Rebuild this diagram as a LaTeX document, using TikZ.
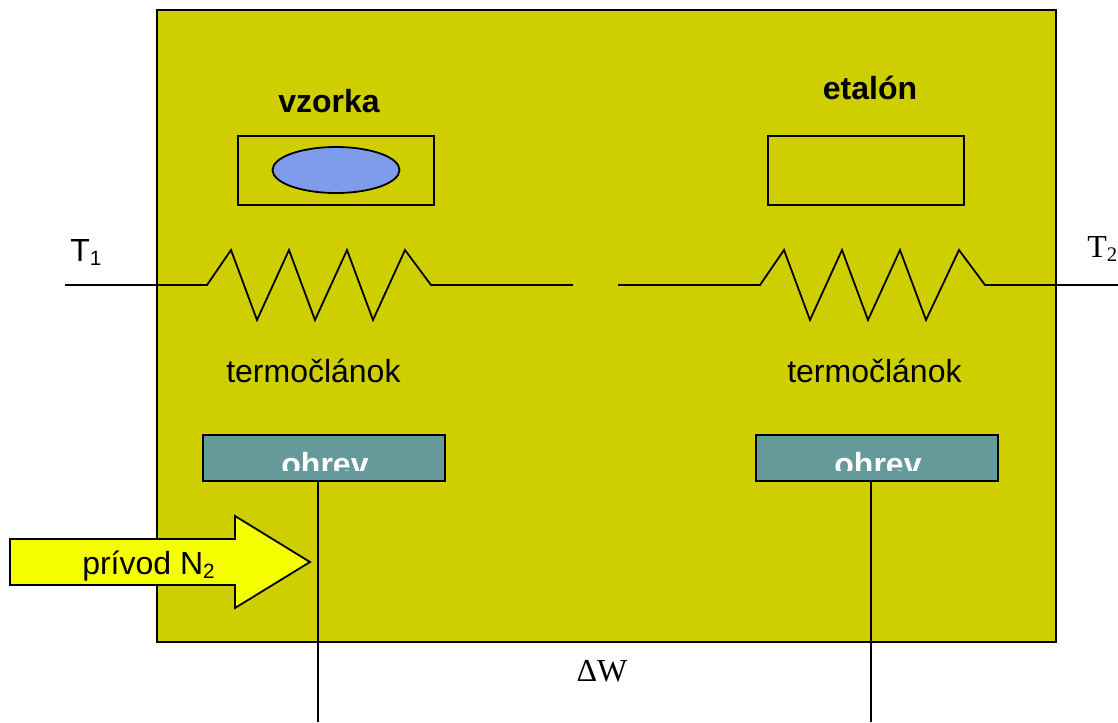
\documentclass[tikz,border=0pt]{standalone}
\usepackage{fontspec}
\setmainfont{Liberation Sans}
\newfontfamily\serifx{Liberation Serif}
\definecolor{olivebg}{RGB}{206,206,0}
\definecolor{tealbox}{RGB}{102,153,153}
\definecolor{bluefill}{RGB}{127,156,235}
\definecolor{yellowarrow}{RGB}{245,255,0}
\newcommand{\lbl}{\fontsize{24pt}{28pt}\selectfont}
\newcommand{\subx}[1]{\raisebox{-3pt}{\fontsize{15.5pt}{18pt}\selectfont #1}}
\begin{document}
\begin{tikzpicture}[x=0.75pt,y=-0.75pt,
  line/.style={draw=black,line width=1.35pt,line join=miter},
  boxx/.style={line,rectangle,minimum width=#1*0.75pt,inner sep=0pt,outer sep=0pt},
  txt/.style={inner sep=0pt,font=\lbl,text=black}]
\useasboundingbox (0,0) rectangle (1118,722);
% main chamber
\node[boxx=899,fill=olivebg,minimum height=632*0.75pt,anchor=north west] (chamber) at (157,10) {};
% crucibles
\node[boxx=196,minimum height=69*0.75pt,anchor=north west] (pan1) at (238,136) {};
\node[boxx=196,minimum height=69*0.75pt,anchor=north west] (pan2) at (768,136) {};
\draw[line,fill=bluefill] (336,170) ellipse [x radius=63.5,y radius=23];
% labels
\node[txt,font=\lbl\bfseries,anchor=base] (vzorka) at (329,112) {vzorka};
\node[txt,font=\lbl\bfseries,anchor=base] (etalon) at (870,99) {etalón};
\node[txt,anchor=base west] (t1) at (70,261) {T\subx{1}};
\node[txt,font=\lbl\serifx,anchor=base west] (t2) at (1087,257) {T\subx{2}};
\node[txt,anchor=base west] (term1) at (226,382) {termočlánok};
\node[txt,anchor=base west] (term2) at (787,382) {termočlánok};
\node[txt,font=\lbl\serifx,anchor=base] (dw) at (602,681) {ΔW};
% thermocouples
\coordinate (a1) at (65,285);
\coordinate (a2) at (573,285);
\coordinate (b1) at (618,285);
\coordinate (b2) at (1118,285);
\draw[line] (a1) -- (207,285) -- (231,250) -- (257,320) -- (289,250) -- (315,320) -- (347,250) -- (373,320) -- (405,250) -- (431,285) -- (a2);
\draw[line] (b1) -- (760,285) -- (784,250) -- (810,320) -- (842,250) -- (868,320) -- (900,250) -- (926,320) -- (959,250) -- (985,285) -- (b2);
% heaters
\node[boxx=242,fill=tealbox,minimum height=46*0.75pt,anchor=north west] (heat1) at (203,435) {};
\node[boxx=242,fill=tealbox,minimum height=46*0.75pt,anchor=north west] (heat2) at (756,435) {};
\begin{scope}
\clip (150,440) rectangle (1000,470);
\node[txt,font=\lbl\bfseries,text=white,anchor=base] (oh1) at (325,475) {ohrev};
\node[txt,font=\lbl\bfseries,text=white,anchor=base] (oh2) at (878,475) {ohrev};
\end{scope}
% leads
\coordinate (e1) at (318,722);
\coordinate (e2) at (871,722);
\draw[line] (heat1.south -| e1) -- (e1);
\draw[line] (heat2.south -| e2) -- (e2);
% gas inlet arrow
\draw[line,fill=yellowarrow] (10,539) -- (235,539) -- (235,516) -- (310,562) -- (235,608) -- (235,585) -- (10,585) -- cycle;
\node[txt,anchor=base west] (n2) at (82,574) {prívod N\subx{2}};
\end{tikzpicture}
\end{document}
